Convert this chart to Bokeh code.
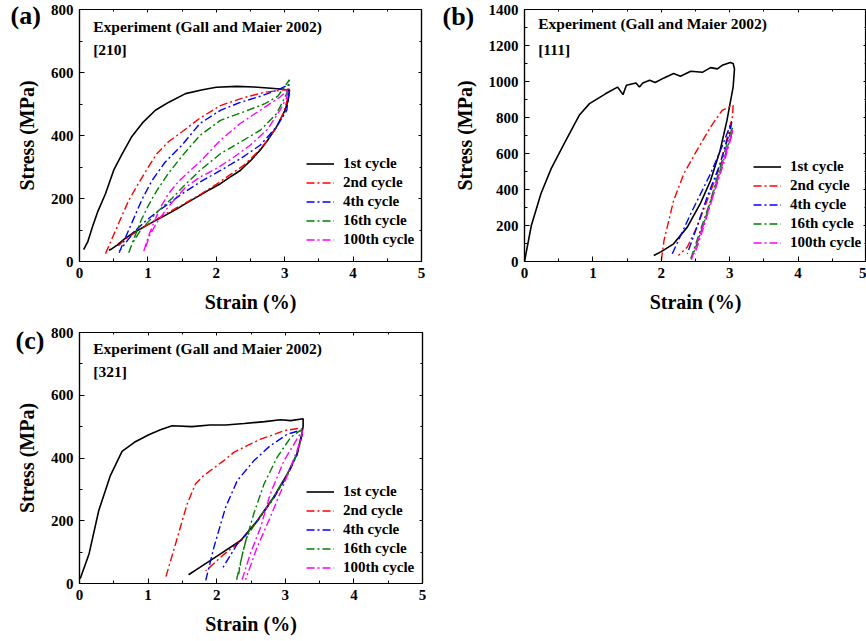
from bokeh.plotting import figure
from bokeh.models import (Range1d, FixedTicker, LinearAxis, Label, Legend, LegendItem, Title)
from bokeh.layouts import column, row
from bokeh.embed import file_html
from bokeh.resources import INLINE

FONT = "Liberation Serif"

cycle_labels = ["1st cycle", "2nd cycle", "4th cycle", "16th cycle", "100th cycle"]
cycle_colors = ["#000000", "#FF0000", "#0000FF", "#008000", "#FF00FF"]

x_ticks = [0, 1, 2, 3, 4, 5]
x_minor = [0.5, 1.5, 2.5, 3.5, 4.5]
y_ticks_800 = [0, 200, 400, 600, 800]
y_minor_800 = [100, 300, 500, 700]
y_ticks_1400 = [0, 200, 400, 600, 800, 1000, 1200, 1400]
y_minor_1400 = [100, 300, 500, 700, 900, 1100, 1300]

# ---------------- Panel (a) [210] ----------------
a1_strain = [0.06, 0.12, 0.19, 0.27, 0.38, 0.50, 0.62, 0.76, 0.92, 1.11, 1.30, 1.55, 1.80, 2.00, 2.30, 2.55, 2.80, 2.98, 3.07,
             3.05, 3.00, 2.88, 2.75, 2.64, 2.50, 2.35, 2.20, 2.06, 1.90, 1.76, 1.60, 1.40, 1.20, 1.00, 0.80, 0.65, 0.55, 0.47, 0.43]
a1_stress = [38, 62, 110, 160, 215, 290, 340, 395, 440, 480, 505, 533, 545, 553, 556, 554, 550, 547, 543,
             510, 478, 427, 385, 353, 320, 289, 268, 247, 228, 210, 190, 164, 140, 117, 93, 70, 52, 40, 36]
a2_strain = [0.38, 0.50, 0.62, 0.72, 0.84, 0.99, 1.13, 1.30, 1.50, 1.76, 2.06, 2.40, 2.70, 3.03,
             3.06, 3.04, 2.98, 2.88, 2.75, 2.60, 2.40, 2.20, 2.00, 1.76, 1.50, 1.25, 1.00, 0.80, 0.65, 0.57]
a2_stress = [25, 85, 145, 194, 240, 294, 342, 380, 412, 455, 495, 520, 537, 546,
             548, 515, 470, 427, 385, 347, 305, 275, 245, 212, 180, 150, 117, 90, 68, 50]
a4_strain = [0.58, 0.68, 0.80, 0.92, 1.06, 1.25, 1.50, 1.76, 2.06, 2.35, 2.65, 2.90, 3.06,
             3.07, 3.03, 2.88, 2.64, 2.35, 2.06, 1.76, 1.50, 1.30, 1.10, 0.95, 0.80, 0.66, 0.58]
a4_stress = [28, 80, 140, 200, 257, 315, 370, 438, 480, 505, 525, 545, 562,
             550, 480, 427, 369, 326, 289, 252, 215, 183, 152, 125, 95, 55, 32]
a16_strain = [0.72, 0.80, 0.90, 1.00, 1.13, 1.30, 1.50, 1.76, 2.06, 2.40, 2.70, 2.90, 3.07,
              3.05, 3.03, 2.88, 2.64, 2.35, 2.06, 1.76, 1.55, 1.35, 1.15, 1.00, 0.88, 0.78]
a16_stress = [28, 75, 130, 175, 225, 280, 335, 400, 448, 475, 500, 525, 577,
              560, 533, 469, 416, 379, 342, 289, 245, 200, 160, 125, 95, 60]
a100_strain = [0.94, 1.00, 1.08, 1.18, 1.30, 1.45, 1.60, 1.76, 2.06, 2.35, 2.64, 2.93, 3.05,
               3.03, 2.93, 2.75, 2.50, 2.25, 2.00, 1.76, 1.55, 1.40, 1.25, 1.12, 1.02, 0.96]
a100_stress = [33, 75, 120, 170, 215, 255, 285, 316, 385, 438, 480, 522, 545,
               520, 480, 420, 370, 330, 295, 268, 235, 200, 160, 120, 80, 40]

# ---------------- Panel (b) [111] ----------------
b1_strain = [0.00, 0.10, 0.24, 0.39, 0.58, 0.80, 0.95, 1.19, 1.36, 1.44, 1.49, 1.63, 1.68, 1.73, 1.83, 1.91, 2.04, 2.18, 2.28,
             2.43, 2.60, 2.72, 2.82, 2.89, 3.01, 3.05, 3.07,
             3.05, 2.96, 2.86, 2.72, 2.57, 2.38, 2.18, 2.00, 1.89]
b1_stress = [0, 200, 376, 516, 655, 812, 877, 933, 969, 927, 979, 992, 969, 992, 1007, 994, 1020, 1044, 1029,
             1057, 1051, 1077, 1070, 1090, 1105, 1100, 1071,
             969, 784, 617, 450, 321, 191, 98, 55, 33]
b2_strain = [2.00, 2.04, 2.18, 2.33, 2.52, 2.72, 2.89, 3.01, 3.05,
             3.04, 2.94, 2.82, 2.67, 2.52, 2.38, 2.25]
b2_stress = [6, 117, 339, 488, 617, 747, 840, 862, 868,
             803, 655, 488, 339, 191, 80, 33]
b4_strain = [2.16, 2.43, 2.72, 2.90, 3.01, 3.03,
             3.01, 2.86, 2.67, 2.52, 2.38]
b4_stress = [43, 265, 488, 650, 760, 775,
             730, 543, 358, 191, 43]
b16_strain = [2.43, 2.57, 2.72, 2.86, 2.99, 3.04,
              3.03, 2.91, 2.77, 2.62, 2.47]
b16_stress = [15, 172, 339, 525, 691, 747,
              710, 562, 395, 210, 43]
b100_strain = [2.44, 2.58, 2.73, 2.87, 3.00, 3.05,
               3.03, 2.92, 2.78, 2.63, 2.49]
b100_stress = [10, 165, 330, 515, 680, 735,
               700, 555, 390, 205, 40]

# ---------------- Panel (c) [321] ----------------
c1_strain = [0.01, 0.14, 0.28, 0.45, 0.62, 0.80, 1.01, 1.18, 1.35, 1.64, 1.90, 2.13, 2.40, 2.70, 2.93, 3.08, 3.26,
             3.26, 3.24, 3.17, 3.03, 2.83, 2.59, 2.35, 2.06, 1.76, 1.59]
c1_stress = [15, 95, 232, 344, 421, 450, 474, 490, 503, 500, 505, 505, 510, 516, 522, 519, 525,
             501, 476, 413, 349, 275, 200, 137, 95, 52, 28]
c2_strain = [1.26, 1.40, 1.57, 1.69, 1.81, 2.10, 2.25, 2.45, 2.64, 2.80, 2.98, 3.22,
             3.25, 3.24, 3.17, 3.03, 2.83, 2.59, 2.35, 2.10, 1.95, 1.84]
c2_stress = [22, 126, 254, 317, 344, 391, 418, 440, 460, 472, 487, 495,
             490, 470, 410, 345, 272, 198, 135, 92, 62, 40]
c4_strain = [1.84, 1.96, 2.13, 2.30, 2.54, 2.78, 3.03, 3.22,
             3.25, 3.24, 3.17, 3.03, 2.83, 2.59, 2.35, 2.30, 2.08]
c4_stress = [10, 116, 243, 328, 391, 439, 476, 488,
             485, 470, 410, 345, 272, 198, 137, 126, 47]
c16_strain = [2.29, 2.40, 2.54, 2.69, 2.88, 3.08, 3.22,
              3.25, 3.17, 3.03, 2.83, 2.59, 2.44, 2.37, 2.32]
c16_stress = [12, 116, 222, 317, 402, 466, 488,
              480, 413, 349, 275, 200, 150, 90, 30]
c100_strain = [2.37, 2.49, 2.64, 2.78, 2.98, 3.17, 3.25,
               3.24, 3.17, 2.98, 2.78, 2.59, 2.42]
c100_stress = [12, 95, 179, 285, 391, 460, 488,
               470, 423, 317, 211, 116, 12]


def style_axis(ax, ticks, minor, tin=5, tmin=3):
    ax.ticker = FixedTicker(ticks=ticks, minor_ticks=minor)
    ax.major_tick_in = tin
    ax.major_tick_out = 0
    ax.minor_tick_in = tmin
    ax.minor_tick_out = 0
    ax.axis_line_color = "black"
    ax.axis_line_width = 1.2
    ax.major_tick_line_color = "black"
    ax.minor_tick_line_color = "black"
    ax.major_label_text_font = FONT
    ax.major_label_text_font_style = "bold"
    ax.major_label_text_font_size = "15px"
    ax.major_label_text_color = "black"
    ax.axis_label_text_font = FONT
    ax.axis_label_text_font_style = "bold"
    ax.axis_label_text_font_size = "20px"
    ax.axis_label_text_color = "black"


def make_panel(series, ymax, yticks, yminor, tag, orient, title_y, orient_y, tag_off, tag_stand,
               legend_loc, width, height, borders):
    p = figure(width=width, height=height, output_backend="svg", toolbar_location=None,
               x_range=Range1d(0, 5), y_range=Range1d(0, ymax),
               min_border_left=borders[0], min_border_right=borders[1],
               min_border_top=borders[2], min_border_bottom=borders[3])
    p.grid.visible = False
    p.outline_line_color = "black"
    p.outline_line_width = 1.2
    p.background_fill_color = "white"
    p.border_fill_color = "white"
    p.xaxis.axis_label = "Strain (%)"
    p.yaxis.axis_label = "Stress (MPa)"
    style_axis(p.xaxis[0], x_ticks, x_minor)
    style_axis(p.yaxis[0], yticks, yminor)
    p.xaxis.major_label_standoff = 6
    p.yaxis.major_label_standoff = 6
    p.xaxis.axis_label_standoff = 10
    p.yaxis.axis_label_standoff = 10

    top = LinearAxis()
    right = LinearAxis()
    style_axis(top, x_ticks, x_minor, 3, 2)
    style_axis(right, yticks, yminor, 3, 2)
    for ax in (top, right):
        ax.major_label_text_font_size = "0px"
        ax.major_label_standoff = 0
        ax.major_label_text_color = None
    p.add_layout(top, "above")
    p.add_layout(right, "right")

    p.add_layout(Title(text=tag, align="left", offset=tag_off, standoff=tag_stand,
                       text_font=FONT, text_font_style="bold", text_font_size="26px",
                       text_color="black"), "above")

    items = []
    for (xs, ys), lab, col in zip(series, cycle_labels, cycle_colors):
        if col == "#000000":
            r = p.line(xs, ys, line_color=col, line_width=1.6)
        else:
            r = p.line(xs, ys, line_color=col, line_width=1.4, line_dash="8 3 2 3")
        items.append(LegendItem(label=lab, renderers=[r]))

    leg = Legend(items=items, location=legend_loc, orientation="vertical",
                 label_text_font=FONT, label_text_font_style="bold", label_text_font_size="15px",
                 label_text_color="black", glyph_width=28, glyph_height=19, label_height=19,
                 label_standoff=9, spacing=0, padding=0, margin=0,
                 border_line_color=None, background_fill_alpha=0)
    p.add_layout(leg, "center")

    p.add_layout(Label(x=0.2, y=title_y, text="Experiment (Gall and Maier 2002)", text_font=FONT,
                       text_font_style="bold", text_font_size="15.5px", text_baseline="middle",
                       text_color="black"))
    p.add_layout(Label(x=0.2, y=orient_y, text=orient, text_font=FONT,
                       text_font_style="bold", text_font_size="15.5px", text_baseline="middle",
                       text_color="black"))
    return p


pa = make_panel([(a1_strain, a1_stress), (a2_strain, a2_stress), (a4_strain, a4_stress),
                 (a16_strain, a16_stress), (a100_strain, a100_stress)],
                800, y_ticks_800, y_minor_800, "(a)", "[210]", 747, 674, -69, -41,
                (227, 12), 433, 320, (79, 12, 9, 59))
pb = make_panel([(b1_strain, b1_stress), (b2_strain, b2_stress), (b4_strain, b4_stress),
                 (b16_strain, b16_stress), (b100_strain, b100_stress)],
                1400, y_ticks_1400, y_minor_1400, "(b)", "[111]", 1322, 1177, -82, -42,
                (229, 9), 433, 320, (91, 0, 9, 59))
pc = make_panel([(c1_strain, c1_stress), (c2_strain, c2_stress), (c4_strain, c4_stress),
                 (c16_strain, c16_stress), (c100_strain, c100_stress)],
                800, y_ticks_800, y_minor_800, "(c)", "[321]", 750, 676, -64, -44,
                (227, 6), 433, 321, (79, 11, 12, 58))

layout = column(row(pa, pb), pc)
open("out.html", "w").write(file_html(layout, INLINE))
